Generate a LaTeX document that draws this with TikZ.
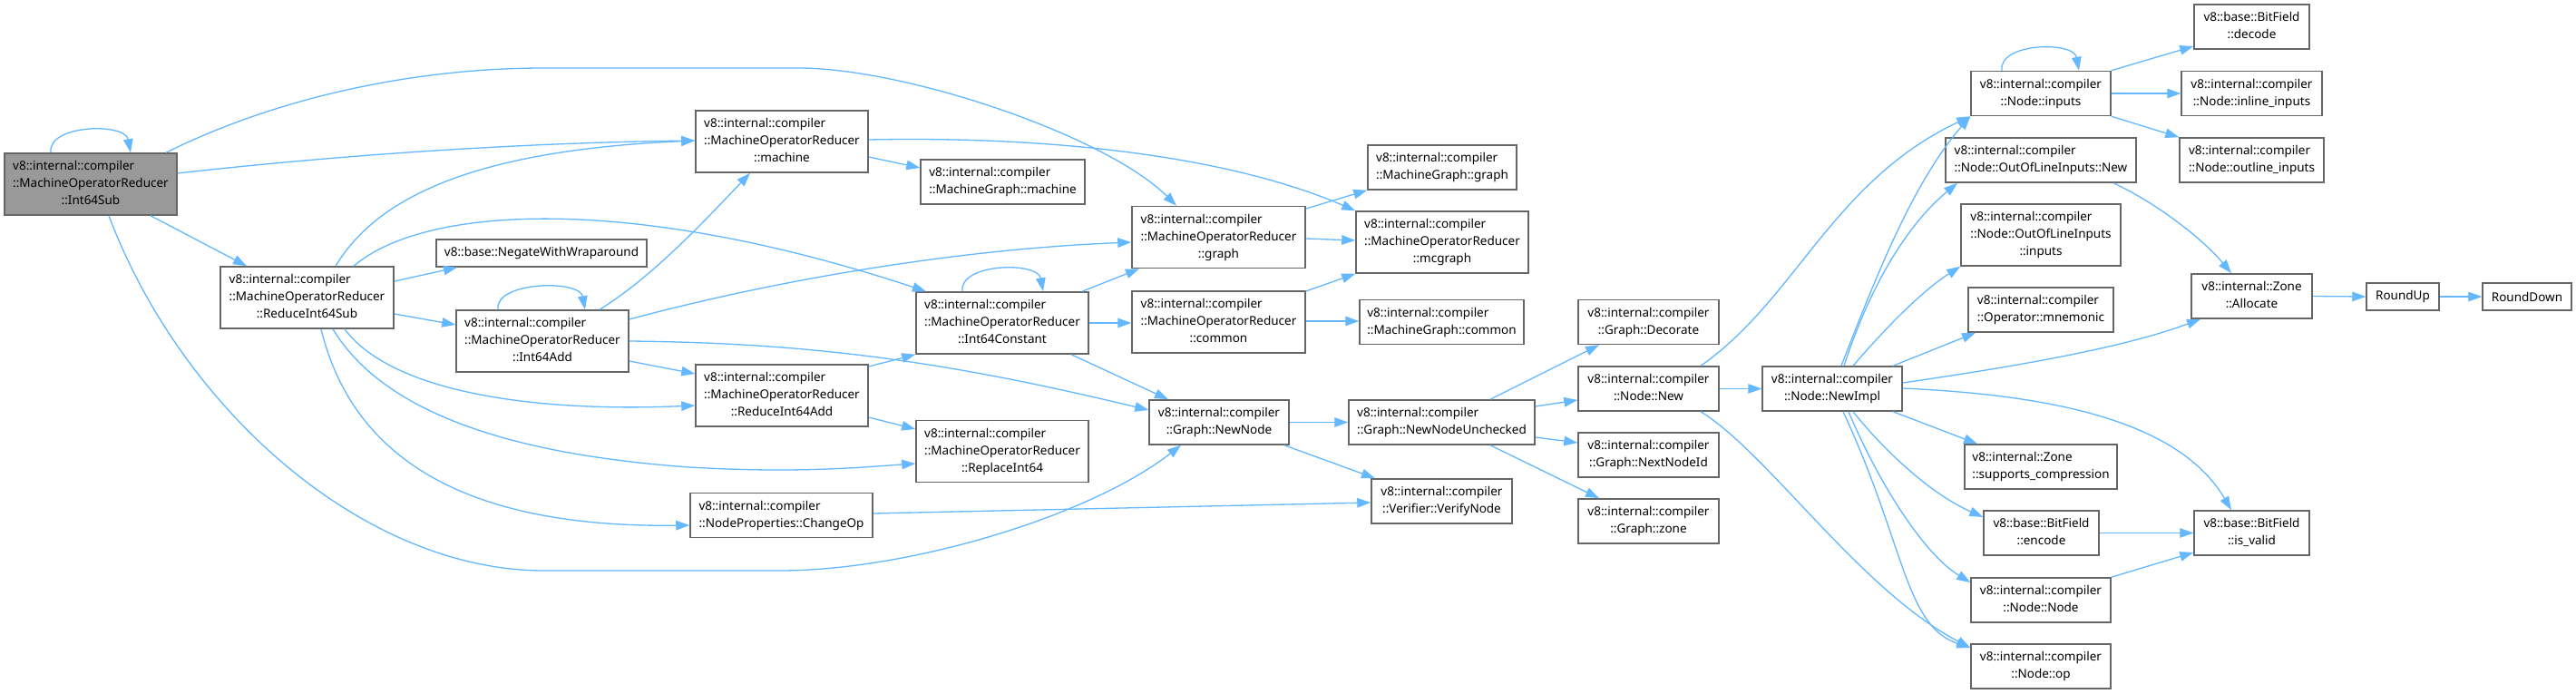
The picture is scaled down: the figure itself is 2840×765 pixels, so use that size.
\documentclass[tikz,border=0pt]{standalone}
\usepackage{fontspec}
\setmainfont{Noto Sans}
\usetikzlibrary{arrows.meta}
\definecolor{edgeblue}{HTML}{63B8FF}
\definecolor{nodeborder}{HTML}{666666}
\definecolor{rootfill}{HTML}{999999}
\newcommand{\twol}[2]{\begin{tabular}{@{}l@{}}#1\\\multicolumn{1}{@{}c@{}}{#2}\end{tabular}}
\newcommand{\threel}[3]{\begin{tabular}{@{}l@{}}#1\\#2\\\multicolumn{1}{@{}c@{}}{#3}\end{tabular}}
\tikzset{
  box/.style={draw=nodeborder, line width=1.5pt, fill=white, inner sep=0pt, text=black,
    font=\fontsize{13.5}{19}\selectfont},
  rootbox/.style={box, fill=rootfill},
  e/.style={draw=edgeblue, line width=1.3pt, -{Triangle[length=15pt,width=10.5pt]}},
}
\begin{document}
\begin{tikzpicture}[x=1pt,y=-1pt]
\fill[white] (0,0) rectangle (2840,765);
\useasboundingbox (0,0) rectangle (2840,765);
% nodes
\node[rootbox, minimum width=190pt, minimum height=68pt] (sub) at (100,203) {\threel{v8::internal::compiler}{::MachineOperatorReducer}{::Int64Sub}};
\node[box, minimum width=191pt, minimum height=68pt] (ris) at (338.5,328) {\threel{v8::internal::compiler}{::MachineOperatorReducer}{::ReduceInt64Sub}};
\node[box, minimum width=232pt, minimum height=30pt] (neg) at (597,279) {v8::base::NegateWithWraparound};
\node[box, minimum width=190pt, minimum height=68pt] (add) at (598,376) {\threel{v8::internal::compiler}{::MachineOperatorReducer}{::Int64Add}};
\node[box, minimum width=190pt, minimum height=68pt] (mach) at (862,156) {\threel{v8::internal::compiler}{::MachineOperatorReducer}{::machine}};
\node[box, minimum width=181pt, minimum height=49pt] (mgm) at (1105.5,200.5) {\twol{v8::internal::compiler}{::MachineGraph::machine}};
\node[box, minimum width=191pt, minimum height=68pt] (mgr) at (1343.5,261.5) {\threel{v8::internal::compiler}{::MachineOperatorReducer}{::graph}};
\node[box, minimum width=190pt, minimum height=68pt] (ic) at (1105,356) {\threel{v8::internal::compiler}{::MachineOperatorReducer}{::Int64Constant}};
\node[box, minimum width=191pt, minimum height=68pt] (com) at (1343.5,355) {\threel{v8::internal::compiler}{::MachineOperatorReducer}{::common}};
\node[box, minimum width=190pt, minimum height=68pt] (ria) at (862,436) {\threel{v8::internal::compiler}{::MachineOperatorReducer}{::ReduceInt64Add}};
\node[box, minimum width=190pt, minimum height=68pt] (rep) at (1105,497.5) {\threel{v8::internal::compiler}{::MachineOperatorReducer}{::ReplaceInt64}};
\node[box, minimum width=201pt, minimum height=49pt] (chg) at (861.5,568) {\twol{v8::internal::compiler}{::NodeProperties::ChangeOp}};
\node[box, minimum width=154pt, minimum height=49pt] (nn) at (1344,465.5) {\twol{v8::internal::compiler}{::Graph::NewNode}};
\node[box, minimum width=164pt, minimum height=49pt] (mgg) at (1590,184.5) {\twol{v8::internal::compiler}{::MachineGraph::graph}};
\node[box, minimum width=190pt, minimum height=68pt] (mcg) at (1590,267) {\threel{v8::internal::compiler}{::MachineOperatorReducer}{::mcgraph}};
\node[box, minimum width=181pt, minimum height=49pt] (mgc) at (1589.5,355) {\twol{v8::internal::compiler}{::MachineGraph::common}};
\node[box, minimum width=155pt, minimum height=49pt] (dec) at (1817.5,355) {\twol{v8::internal::compiler}{::Graph::Decorate}};
\node[box, minimum width=205pt, minimum height=49pt] (nnu) at (1589.5,465.5) {\twol{v8::internal::compiler}{::Graph::NewNodeUnchecked}};
\node[box, minimum width=155pt, minimum height=49pt] (ver) at (1589.5,552.5) {\twol{v8::internal::compiler}{::Verifier::VerifyNode}};
\node[box, minimum width=155pt, minimum height=49pt] (new) at (1817.5,428.5) {\twol{v8::internal::compiler}{::Node::New}};
\node[box, minimum width=155pt, minimum height=49pt] (nid) at (1817.5,501.5) {\twol{v8::internal::compiler}{::Graph::NextNodeId}};
\node[box, minimum width=155pt, minimum height=49pt] (zone) at (1817.5,574.5) {\twol{v8::internal::compiler}{::Graph::zone}};
\node[box, minimum width=154pt, minimum height=49pt] (impl) at (2020,428.5) {\twol{v8::internal::compiler}{::Node::NewImpl}};
\node[box, minimum width=154pt, minimum height=49pt] (inp) at (2250,103) {\twol{v8::internal::compiler}{::Node::inputs}};
\node[box, minimum width=127pt, minimum height=49pt] (dcd) at (2482.5,29.5) {\twol{v8::base::BitField}{::decode}};
\node[box, minimum width=155pt, minimum height=49pt] (inl) at (2482.5,103) {\twol{v8::internal::compiler}{::Node::inline\_inputs}};
\node[box, minimum width=159pt, minimum height=49pt] (outl) at (2482.5,176.5) {\twol{v8::internal::compiler}{::Node::outline\_inputs}};
\node[box, minimum width=210pt, minimum height=49pt] (oolnew) at (2250,176.5) {\twol{v8::internal::compiler}{::Node::OutOfLineInputs::New}};
\node[box, minimum width=176pt, minimum height=68pt] (oolinp) at (2250,259) {\threel{v8::internal::compiler}{::Node::OutOfLineInputs}{::inputs}};
\node[box, minimum width=160pt, minimum height=49pt] (mnem) at (2250,341.5) {\twol{v8::internal::compiler}{::Operator::mnemonic}};
\node[box, minimum width=133pt, minimum height=49pt] (alloc) at (2482.5,326.5) {\twol{v8::internal::Zone}{::Allocate}};
\node[box, minimum width=80pt, minimum height=30pt] (rup) at (2649,327) {RoundUp};
\node[box, minimum width=98pt, minimum height=30pt] (rdn) at (2786,327) {RoundDown};
\node[box, minimum width=168pt, minimum height=49pt] (supp) at (2250,514.5) {\twol{v8::internal::Zone}{::supports\_compression}};
\node[box, minimum width=127pt, minimum height=49pt] (enc) at (2250.5,587.5) {\twol{v8::base::BitField}{::encode}};
\node[box, minimum width=127pt, minimum height=49pt] (isv) at (2482.5,587.5) {\twol{v8::base::BitField}{::is\_valid}};
\node[box, minimum width=154pt, minimum height=49pt] (node) at (2250,661.5) {\twol{v8::internal::compiler}{::Node::Node}};
\node[box, minimum width=154pt, minimum height=49pt] (op) at (2250,734.5) {\twol{v8::internal::compiler}{::Node::op}};
% self loops
\draw[e] (sub.north -| 56,0) .. controls (52,137) and (138,135) .. (sub.north -| 144,0);
\draw[e] (add.north -| 549,0) .. controls (545,310) and (639,308) .. (add.north -| 645,0);
\draw[e] (ic.north -| 1061,0) .. controls (1057,290) and (1144,288) .. (ic.north -| 1150,0);
\draw[e] (inp.north -| 2207,0) .. controls (2203,47) and (2286,45) .. (inp.north -| 2292,0);
% Int64Sub
\draw[e] (sub.north -| 183,0) .. controls (300,110) and (450,75) .. (600,75) -- (880,75) .. controls (1000,75) and (1220,150) .. (mgr.north -| 1297,0);
\draw[e] (sub.east |- 0,191) .. controls (400,168) and (600,157) .. (mach.west |- 0,155);
\draw[e] (sub.south -| 166,0) -- (ris.north -| 272,0);
\draw[e] (sub.south -| 120,0) .. controls (200,450) and (400,629) .. (600,629) -- (860,629) .. controls (1000,629) and (1200,570) .. (nn.south -| 1302,0);
% ReduceInt64Sub
\draw[e] (ris.north -| 370,0) .. controls (420,210) and (540,165) .. (mach.west |- 0,155);
\draw[e] (ris.north -| 390,0) .. controls (470,225) and (700,215) .. (ic.north -| 1021,0);
\draw[e] (ris.east |- 0,310) -- (neg.south -| 504,0);
\draw[e] (ris.east |- 0,346) -- (add.west |- 0,358);
\draw[e] (ris.south -| 380,0) .. controls (430,430) and (580,455) .. (ria.west |- 0,447);
\draw[e] (ris.south -| 367,0) .. controls (420,450) and (550,500) .. (760,515) .. controls (880,522) and (950,515) .. (rep.west |- 0,511);
\draw[e] (ris.south -| 354,0) .. controls (390,510) and (520,582) .. (chg.west |- 0,579);
% Int64Add
\draw[e] (add.north -| 661,0) .. controls (720,305) and (780,240) .. (mach.south -| 827,0);
\draw[e] (add.east |- 0,352) .. controls (850,310) and (1050,275) .. (mgr.west |- 0,267);
\draw[e] (add.east |- 0,376) .. controls (900,378) and (1050,400) .. (nn.west |- 0,452);
\draw[e] (add.east |- 0,398) -- (ria.west |- 0,412);
% ReduceInt64Add
\draw[e] (ria.east |- 0,404) -- (ic.south west);
\draw[e] (ria.east |- 0,460) -- (rep.west |- 0,473);
% Int64Constant
\draw[e] (ic.north -| 1193,0) -- (mgr.south -| 1256,0);
\draw[e] (ic.east) -- (com.west |- 0,356);
\draw[e] (ic.south -| 1181,0) -- (nn.north -| 1288,0);
% machine, graph, common
\draw[e] (mach.east |- 0,173) -- (mgm.west |- 0,185);
\draw[e] (mach.east |- 0,154) .. controls (1150,150) and (1350,170) .. (mcg.north west);
\draw[e] (mgr.east |- 0,230) -- (mgg.south west);
\draw[e] (mgr.east |- 0,263) -- (mcg.west |- 0,265);
\draw[e] (com.east |- 0,321) -- (mcg.south west);
\draw[e] (com.east |- 0,354) -- (mgc.west |- 0,354);
% NewNode
\draw[e] (nn.east) -- (nnu.west);
\draw[e] (nn.south -| 1416,0) -- (ver.north -| 1516,0);
\draw[e] (chg.east |- 0,566) -- (ver.west |- 0,554);
% NewNodeUnchecked
\draw[e] (nnu.north -| 1643,0) -- (dec.south -| 1763,0);
\draw[e] (nnu.east |- 0,448) -- (new.west |- 0,441);
\draw[e] (nnu.east |- 0,482) -- (nid.west |- 0,488);
\draw[e] (nnu.south -| 1643,0) -- (zone.north -| 1763,0);
% Node::New
\draw[e] (new.east) -- (impl.west);
\draw[e] (new.north -| 1875,0) .. controls (1980,330) and (2020,200) .. (inp.south west);
\draw[e] (new.south -| 1875,0) .. controls (1950,500) and (2050,650) .. (op.west |- 0,714);
% NewImpl
\draw[e] (impl.north -| 2030,0) .. controls (2070,300) and (2110,200) .. (inp.south west);
\draw[e] (impl.north -| 2033,0) .. controls (2060,320) and (2100,250) .. (oolnew.south -| 2158,0);
\draw[e] (impl.north -| 2043,0) .. controls (2080,360) and (2120,320) .. (oolinp.south west);
\draw[e] (impl.north -| 2087,0) -- (mnem.south -| 2178,0);
\draw[e] (impl.east |- 0,422) .. controls (2250,400) and (2350,380) .. (alloc.south -| 2426,0);
\draw[e] (impl.east |- 0,428) .. controls (2250,435) and (2400,460) .. (isv.north -| 2460,0);
\draw[e] (impl.south -| 2087,0) -- (supp.north -| 2180,0);
\draw[e] (impl.south -| 2043,0) .. controls (2080,500) and (2130,545) .. (enc.west |- 0,570);
\draw[e] (impl.south -| 2038,0) .. controls (2070,530) and (2120,610) .. (node.west |- 0,642);
\draw[e] (impl.south -| 2032,0) .. controls (2100,600) and (2100,690) .. (op.west |- 0,714);
% Node::inputs
\draw[e] (inp.north east) -- (dcd.west |- 0,51);
\draw[e] (inp.east) -- (inl.west);
\draw[e] (inp.south east) -- (outl.north west);
% others
\draw[e] (oolnew.south -| 2330,0) .. controls (2380,225) and (2430,265) .. (alloc.north -| 2460,0);
\draw[e] (alloc.east) -- (rup.west);
\draw[e] (rup.east) -- (rdn.west);
\draw[e] (enc.east) -- (isv.west);
\draw[e] (node.north east) -- (isv.west |- 0,609);
\end{tikzpicture}
\end{document}
